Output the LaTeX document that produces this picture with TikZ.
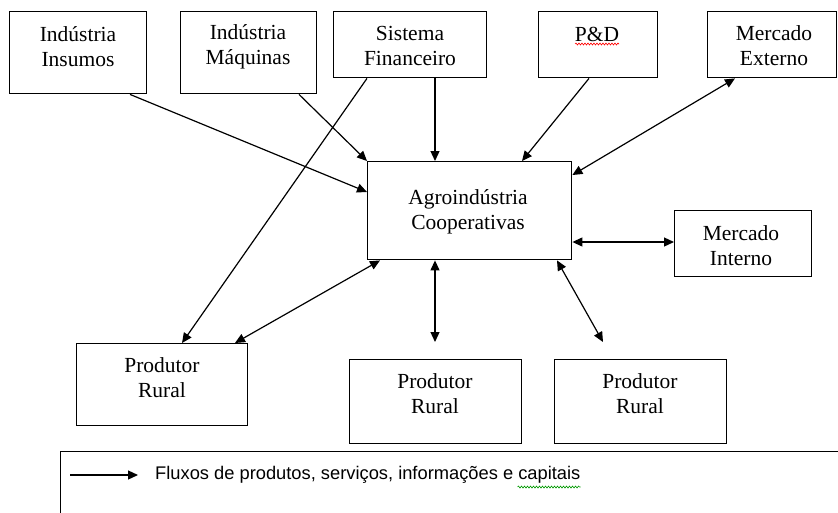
\documentclass[tikz,border=0pt]{standalone}
\usepackage{fontspec}
\setmainfont{Liberation Serif}
\newfontfamily\boxfont{Liberation Serif}
\newfontfamily\legfont{Liberation Sans}
\usetikzlibrary{arrows.meta,calc,decorations.pathmorphing}
\begin{document}
\begin{tikzpicture}[x=1pt,y=-1pt,
  box/.style={draw,line width=1.4pt,rectangle,inner sep=0pt,anchor=north west},
  lbl/.style={align=center,inner sep=0pt,font=\boxfont\fontsize{21.5}{25}\selectfont},
  flow/.style={line width=1.2pt,-{Triangle[length=10pt,width=9pt]}},
  flow2/.style={line width=1.2pt,{Triangle[length=10pt,width=9pt]}-{Triangle[length=10pt,width=9pt]}},
  wavy/.style={line width=0.6pt,decorate,decoration={snake,amplitude=1pt,segment length=3pt}}]
\useasboundingbox (0,0) rectangle (838,512);
% boxes
\node[box,minimum width=137,minimum height=82] (ins) at (9,11) {};
\node[box,minimum width=136,minimum height=82] (maq) at (180,11) {};
\node[box,minimum width=153,minimum height=66] (sis) at (333,11) {};
\node[box,minimum width=119,minimum height=66] (pd) at (538,11) {};
\node[box,minimum width=129,minimum height=66] (ext) at (707,11) {};
\node[box,minimum width=204,minimum height=98] (agro) at (367,161) {};
\node[box,minimum width=137,minimum height=66] (int) at (674,210) {};
\node[box,minimum width=171,minimum height=82] (pr1) at (76,343) {};
\node[box,minimum width=172,minimum height=84] (pr2) at (349,359) {};
\node[box,minimum width=172,minimum height=84] (pr3) at (554,359) {};
\node[box,minimum width=800,minimum height=80] (leg) at (60,451) {};
% texts
\node[lbl] (tins) at (78,47) {Indústria\\Insumos};
\node[lbl] (tmaq) at (248,47) {Indústria\\Máquinas};
\node[lbl] (tsis) at (410,46) {Sistema\\Financeiro};
\node[lbl] (tpd) at (597,34) {P\&D};
\node[lbl] (text) at (774,46) {Mercado\\Externo};
\node[lbl] (tagro) at (468,212) {Agroindústria\\Cooperativas};
\node[lbl] (tint) at (741,246) {Mercado\\Interno};
\node[lbl] (tpr1) at (162,378) {Produtor\\Rural};
\node[lbl] (tpr2) at (435,394) {Produtor\\Rural};
\node[lbl] (tpr3) at (640,394) {Produtor\\Rural};
% spellcheck underlines
\draw[red,wavy] ([xshift=-22,yshift=-10]tpd.center) -- ([xshift=22,yshift=-10]tpd.center);
% connectors
\draw[flow] ([xshift=121]ins.south west) -- ([yshift=-31]agro.north west);
\draw[flow] ([xshift=119]maq.south west) -- (agro.north west);
\draw[flow] ([xshift=102]sis.south west) -- ([xshift=68]agro.north west);
\draw[flow] ([xshift=51]pd.south west) -- ([xshift=155]agro.north west);
\draw[flow2] ([yshift=-14]agro.north east) -- ([xshift=28]ext.south west);
\draw[flow] ([xshift=34]sis.south west) -- ([xshift=106]pr1.north west);
\draw[flow2] ([xshift=159]pr1.north west) -- ([xshift=13]agro.south west);
\draw[flow2] ([xshift=68]agro.south west) -- ([xshift=86,yshift=17]pr2.north west);
\draw[flow2] ([xshift=190]agro.south west) -- ([xshift=49,yshift=17]pr3.north west);
\draw[flow2] ([yshift=-81]agro.north east) -- ([yshift=-32]int.north west);
% legend
\coordinate (la) at ([xshift=10,yshift=-24]leg.north west);
\coordinate (lb) at ([xshift=78,yshift=-24]leg.north west);
\draw[flow] (la) -- (lb);
\node[anchor=west,inner sep=0pt,font=\legfont\fontsize{18.3}{21}\selectfont] (tleg) at ([xshift=17]lb) {Fluxos de produtos, serviços, informações e capitais};
\draw[green!60!black,wavy] ([xshift=-63,yshift=-12]tleg.east) -- ([yshift=-12]tleg.east);
\end{tikzpicture}
\end{document}
